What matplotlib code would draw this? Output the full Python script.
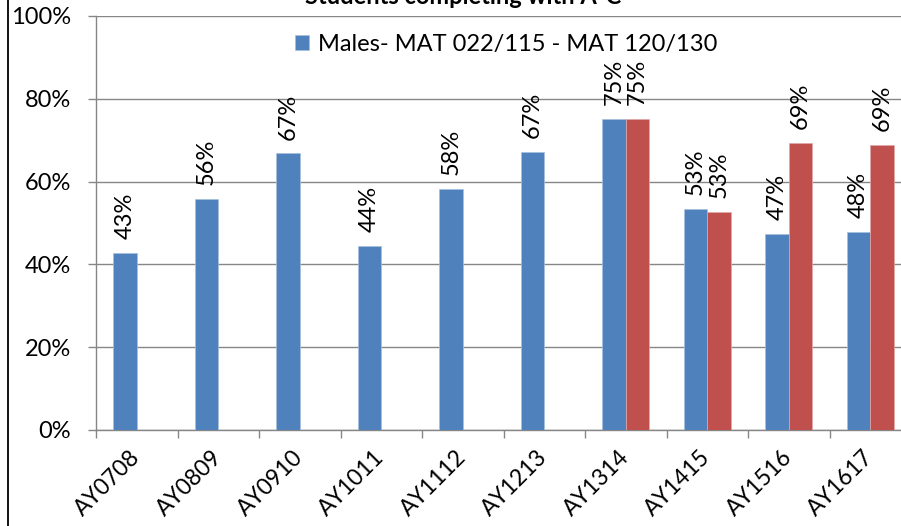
import numpy as np
import matplotlib.pyplot as plt
from matplotlib.ticker import FuncFormatter, FixedLocator

plt.rcParams['font.family'] = ['Lato', 'DejaVu Sans']

years = ['AY0708', 'AY0809', 'AY0910', 'AY1011', 'AY1112',
         'AY1213', 'AY1314', 'AY1415', 'AY1516', 'AY1617']
males = [0.427, 0.559, 0.668, 0.444, 0.583, 0.672, 0.751, 0.534, 0.473, 0.478]
other = [None, None, None, None, None, None, 0.751, 0.526, 0.693, 0.688]
males_name = 'Males- MAT 022/115 - MAT 120/130'
title = 'Students completing with A-C'

blue = '#4F81BD'
red = '#C0504D'
grey = '#868686'
fs = 17

fig = plt.figure(figsize=(9.01, 5.26), dpi=100)
ax = fig.add_axes([96 / 901, 96 / 526, 815 / 901, 414 / 526])

x = np.arange(len(years))
w = 0.29
ax.bar(x - w / 2, males, w, color=blue, edgecolor='#A7C0DE', linewidth=0.5,
       label=males_name, zorder=3)
xo = [i for i, v in zip(x, other) if v is not None]
vo = [v for v in other if v is not None]
ax.bar(np.array(xo) + w / 2, vo, w, color=red, edgecolor='#E0A8A6', linewidth=0.5, zorder=3)

# data labels, rotated like the Excel chart
for i, v in zip(x, males):
    ax.annotate(f'{v * 100:.0f}%', (i - w / 2, v), xytext=(0, 10), textcoords='offset points',
                rotation=90, ha='center', va='bottom', fontsize=fs)
for i, v in zip(xo, vo):
    ax.annotate(f'{v * 100:.0f}%', (i + w / 2, v), xytext=(0, 10), textcoords='offset points',
                rotation=90, ha='center', va='bottom', fontsize=fs)

ax.set_xlim(-0.5, len(years) - 0.5)
ax.set_ylim(0, 1)
ax.yaxis.set_major_locator(FixedLocator([0, 0.2, 0.4, 0.6, 0.8, 1.0]))
ax.yaxis.set_major_formatter(FuncFormatter(lambda v, p: f'{v * 100:.0f}%'))
ax.grid(axis='y', color=grey, linewidth=1.0, zorder=0)
ax.set_axisbelow(True)

ax.set_xticks(x)
ax.set_xticklabels(years, rotation=45, ha='right', va='center', rotation_mode='anchor')
ax.set_xticks(np.arange(-0.5, len(years)), minor=True)
ax.tick_params(axis='x', which='major', length=0, pad=17, labelsize=fs - 0.5)
ax.tick_params(axis='x', which='minor', length=6, width=1, color=grey, direction='out')
ax.tick_params(axis='y', length=6, width=1, color=grey, pad=12, labelsize=fs)

for s in ['top', 'right']:
    ax.spines[s].set_visible(False)
for s in ['left', 'bottom']:
    ax.spines[s].set_color(grey)
    ax.spines[s].set_linewidth(1.0)

ax.legend(loc='center', bbox_to_anchor=(506 / 901, 1 - 44 / 526), bbox_transform=fig.transFigure,
          frameon=False, fontsize=fs, handlelength=0.6, handleheight=0.6, handletextpad=0.4)

fig.text(463 / 901, 1 - 4 / 526, title, ha='center', va='baseline',
         fontsize=fs, fontweight='bold')

# outer chart border on the left
fig.add_artist(plt.Line2D([7.5 / 901, 7.5 / 901], [0, 1], transform=fig.transFigure,
                          color='black', linewidth=1.3))

fig.savefig('out.png', dpi=100)
